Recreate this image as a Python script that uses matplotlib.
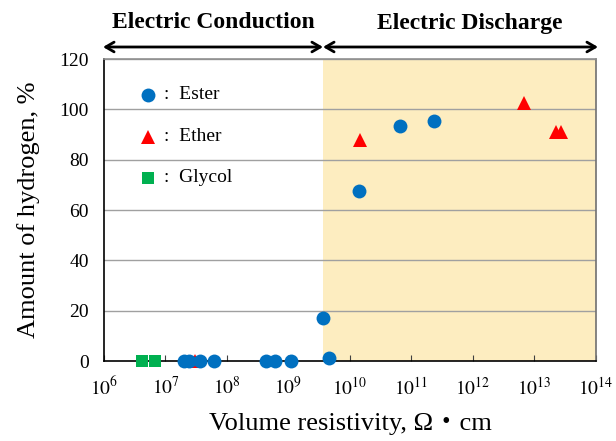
import matplotlib
matplotlib.use('Agg')
import matplotlib.pyplot as plt
import numpy as np

plt.rcParams['font.family'] = ['Liberation Serif', 'Noto Sans CJK JP']
plt.rcParams['mathtext.fontset'] = 'stix'

# Data (log10 of volume resistivity, amount of hydrogen %)
ester_logx = [7.30, 7.38, 7.56, 7.79, 8.63, 8.78, 9.04, 9.56, 9.66, 10.15, 10.81, 11.37]
ester_y = [0, 0, 0, 0, 0, 0, 0, 17, 1.2, 67.5, 93.3, 95.2]
ether_logx = [7.48, 10.16, 12.83, 13.35, 13.43]
ether_y = [0, 88, 102.7, 91, 91]
glycol_logx = [6.62, 6.83]
glycol_y = [0, 0]
boundary_logx = 9.56

x_ticks = [6, 7, 8, 9, 10, 11, 12, 13, 14]
y_ticks = [0, 20, 40, 60, 80, 100, 120]

blue = '#0070C0'
red = '#FF0000'
green = '#00B050'

fig = plt.figure(figsize=(6.16, 4.41), dpi=100)
ax = fig.add_axes([0.1688, 0.1814, 0.7987, 0.6848])

ax.axvspan(10 ** boundary_logx, 1e14, color='#FDEDC0', zorder=0, lw=0)
for yv in y_ticks[1:]:
    ax.axhline(yv, color='#A0A0A0', lw=1.0, zorder=1)

ax.plot(10 ** np.array(ether_logx), ether_y, '^', color=red, ms=10, mew=0, zorder=3, clip_on=False)
ax.plot(10 ** np.array(glycol_logx), glycol_y, 's', color=green, ms=9, mew=0, zorder=3, clip_on=False)
ax.plot(10 ** np.array(ester_logx), ester_y, 'o', color=blue, ms=10, mew=0, zorder=4, clip_on=False)

ax.set_xscale('log')
ax.set_xlim(1e6, 1e14)
ax.set_ylim(0, 120)
ax.set_xticks([10.0 ** t for t in x_ticks])
ax.set_xticklabels([r'$10^{%d}$' % t for t in x_ticks], fontsize=14)
ax.xaxis.set_minor_locator(matplotlib.ticker.NullLocator())
ax.set_yticks(y_ticks)
ax.set_yticklabels([str(t) for t in y_ticks], fontsize=14)
ax.tick_params(axis='x', direction='in', length=4, pad=11, colors='#404040', labelcolor='black')
ax.tick_params(axis='y', length=0, pad=11)

ax.spines['left'].set_color('black')
ax.spines['bottom'].set_color('black')
ax.spines['top'].set_color('#909090')
ax.spines['right'].set_color('#707070')
for s in ax.spines.values():
    s.set_linewidth(1.2)

ax.set_xlabel('Volume resistivity, Ω・cm', fontsize=19, labelpad=10)
ax.set_ylabel('Amount of hydrogen, %', fontsize=19, labelpad=14)

# legend drawn by hand
leg = [('o', blue, ':  Ester', 0.881, 10), ('^', red, ':  Ether', 0.742, 10), ('s', green, ':  Glycol', 0.606, 8)]
for mk, col, lab, yy, ms in leg:
    ax.plot([0.089], [yy], mk, color=col, ms=ms, mew=0, transform=ax.transAxes, zorder=5)
    ax.text(0.122, yy, lab, fontsize=14, va='center', ha='left', transform=ax.transAxes, zorder=5)

# region annotations above the axes
ya = 1 - 47 / 441
xb = 323 / 616
for x0, x1 in [(103 / 616, xb), (xb, 598 / 616)]:
    fig.add_artist(matplotlib.patches.FancyArrowPatch((x0, ya), (x1, ya), transform=fig.transFigure,
                                                      arrowstyle='<->,head_length=6,head_width=3.5', lw=2,
                                                      color='black', shrinkA=0, shrinkB=0, mutation_scale=1))
fig.text(213 / 616, 1 - 23 / 441, 'Electric Conduction', fontsize=17, fontweight='bold', ha='center', va='center')
fig.text(470 / 616, 1 - 23 / 441, 'Electric Discharge', fontsize=17, fontweight='bold', ha='center', va='center')

fig.savefig('out.png', dpi=100)
